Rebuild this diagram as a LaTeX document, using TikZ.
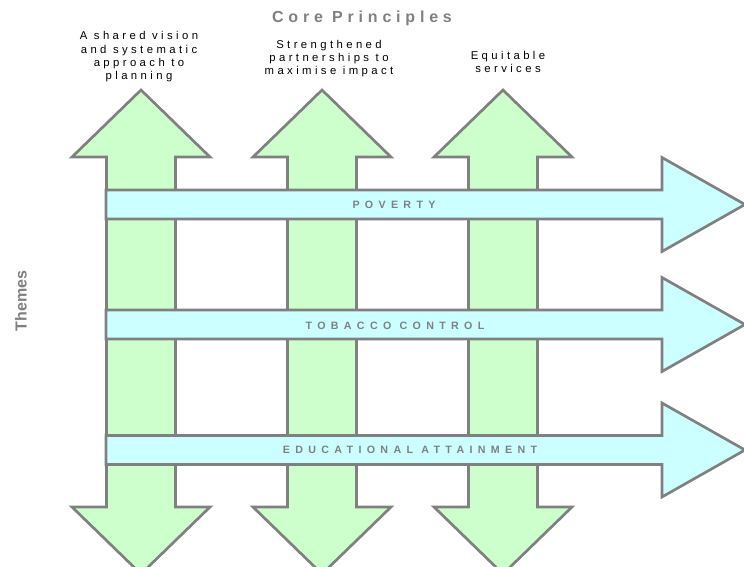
\documentclass[tikz,border=0pt]{standalone}
\usepackage{fontspec}
\setmainfont{Liberation Sans}
\newfontfamily\trackfont[LetterSpace=30]{Liberation Sans}
\newfontfamily\headtrack[LetterSpace=30]{Liberation Sans}
\newfontfamily\widetrack[LetterSpace=50]{Liberation Sans}
\usetikzlibrary{positioning}
\definecolor{edgegray}{HTML}{808080}
\definecolor{paleGreen}{HTML}{CCFFCC}
\definecolor{paleCyan}{HTML}{CCFFFF}

\begin{document}
\begin{tikzpicture}[x=0.75pt, y=-0.75pt,
    upright/.style={draw=edgegray, fill=paleGreen, line width=2pt},
    theme/.style={draw=edgegray, fill=paleCyan, line width=2pt},
    heading/.style={font=\bfseries\fontsize{12}{14}\selectfont, text=edgegray},
    principle/.style={font=\trackfont\fontsize{8.5}{10}\selectfont, align=center, inner sep=0pt},
    band/.style={font=\widetrack\bfseries\fontsize{8}{9}\selectfont, text=edgegray, inner sep=0pt}]

\useasboundingbox (0,0) rectangle (744,567);

% --- core principles: arrows pointing up and down
\foreach \cx/\nm in {141/vision, 322/partner, 503/equity} {
  \draw[upright] (\cx,90) -- (\cx+69,157) -- (\cx+34.5,157) -- (\cx+34.5,507) -- (\cx+69,507)
     -- (\cx,574) -- (\cx-69,507) -- (\cx-34.5,507) -- (\cx-34.5,157) -- (\cx-69,157) -- cycle;
  \coordinate (\nm) at (\cx,90);
}

% --- themes: arrows pointing right
\foreach \cy/\nm in {204.5/poverty, 324.5/tobacco, 450/education} {
  \draw[theme] (106,\cy-14.5) -- (662,\cy-14.5) -- (662,\cy-47) -- (745,\cy) -- (662,\cy+47)
     -- (662,\cy+14.5) -- (106,\cy+14.5) -- cycle;
  \coordinate (\nm) at (106,\cy);
}

% --- labels
\node[heading, font=\headtrack\bfseries\fontsize{12}{14}\selectfont] (core) at (362,18) {Core Principles};
\node[heading, rotate=90] (themes) at (21,301) {Themes};

\node[principle] (visiontxt) at (139,57) {A shared vision\\and systematic\\approach to\\planning};
\node[principle] (partnertxt) at (329,58.5) {Strengthened\\partnerships to\\maximise impact};
\node[principle] (equitytxt) at (508,62) {Equitable\\services};

\node[band] (povertytxt) at (394,204.5) {POVERTY};
\node[band] (tobaccotxt) at (395,325.5) {TOBACCO CONTROL};
\node[band] (educationtxt) at (410,450) {EDUCATIONAL ATTAINMENT};
\end{tikzpicture}
\end{document}
